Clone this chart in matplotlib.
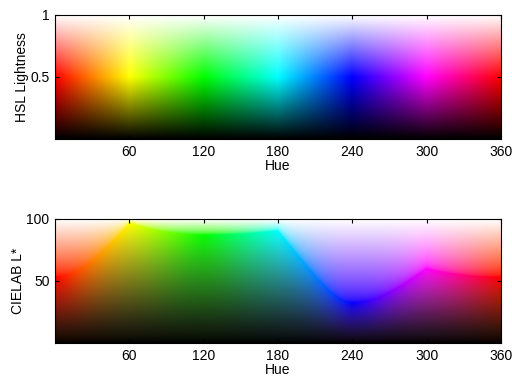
# 색상환 두 가지 밝기 기준 비교 -- HSL 명도 / CIELAB L*
import numpy as np
import matplotlib
matplotlib.use("Agg")
import matplotlib.pyplot as plt
import colorsys

plt.rcParams['font.family'] = ['Liberation Sans', 'DejaVu Sans']
plt.rcParams['font.size'] = 10

# 축 범위와 눈금
hue_range = [0, 360]
hue_ticks = [60, 120, 180, 240, 300, 360]
hsl_ticks = [0.5, 1]
hsl_tick_labels = ['0.5', '1']
lab_ticks = [50, 100]
lab_tick_labels = ['50', '100']

hues = np.linspace(0, 360, 361)
hsl_levels = np.linspace(0, 1, 201)
lab_levels = np.linspace(0, 100, 201)


# sRGB <-> CIELAB 변환 (D65)
M = np.array([[0.4124, 0.3576, 0.1805],
              [0.2126, 0.7152, 0.0722],
              [0.0193, 0.1192, 0.9505]])
WHITE = M.sum(axis=1)


def srgb_to_lab(rgb):
    lin = np.where(rgb <= 0.04045, rgb / 12.92, ((rgb + 0.055) / 1.055) ** 2.4)
    xyz = lin @ M.T / WHITE
    f = np.where(xyz > (6 / 29) ** 3, np.cbrt(xyz), xyz / (3 * (6 / 29) ** 2) + 4 / 29)
    L = 116 * f[..., 1] - 16
    a = 500 * (f[..., 0] - f[..., 1])
    b = 200 * (f[..., 1] - f[..., 2])
    return np.stack([L, a, b], axis=-1)


def lab_to_srgb(lab):
    fy = (lab[..., 0] + 16) / 116
    fx = fy + lab[..., 1] / 500
    fz = fy - lab[..., 2] / 200
    f = np.stack([fx, fy, fz], axis=-1)
    d = 6 / 29
    xyz = np.where(f > d, f ** 3, 3 * d ** 2 * (f - 4 / 29)) * WHITE
    lin = xyz @ np.linalg.inv(M).T
    lin = np.clip(lin, 0, 1)
    rgb = np.where(lin <= 0.0031308, 12.92 * lin, 1.055 * lin ** (1 / 2.4) - 0.055)
    return np.clip(rgb, 0, 1)


# HSL 이미지
hsl_img = np.array([[colorsys.hls_to_rgb(h / 360 % 1, l, 1.0) for h in hues]
                    for l in hsl_levels])

# CIELAB 이미지: 순색의 L* 기준으로 검정/흰색 쪽으로 보간
pure = np.array([colorsys.hls_to_rgb(h / 360 % 1, 0.5, 1.0) for h in hues])
pure_lab = srgb_to_lab(pure)
Lp = pure_lab[:, 0]
white_lab = np.array([100.0, 0.0, 0.0])
lab_img = np.zeros((len(lab_levels), len(hues), 3))
for i, L in enumerate(lab_levels):
    below = (pure_lab * (L / Lp)[:, None])
    t = ((100 - L) / (100 - Lp))[:, None]
    above = white_lab + (pure_lab - white_lab) * t
    lab_img[i] = np.where((L <= Lp)[:, None], below, above)
lab_rgb = lab_to_srgb(lab_img)

fig = plt.figure(figsize=(5.12, 3.78), dpi=100)
ax1 = fig.add_axes([55 / 512, 1 - 139 / 378, 446 / 512, 124 / 378])
ax2 = fig.add_axes([55 / 512, 1 - 343 / 378, 446 / 512, 124 / 378])

ax1.imshow(hsl_img, origin='lower', aspect='auto',
           extent=[hue_range[0], hue_range[1], 0, 1], interpolation='bilinear')
ax1.set_ylim(0, 1)
ax1.set_yticks(hsl_ticks)
ax1.set_yticklabels(hsl_tick_labels)
ax1.set_ylabel('HSL Lightness', labelpad=1)

ax2.imshow(lab_rgb, origin='lower', aspect='auto',
           extent=[hue_range[0], hue_range[1], 0, 100], interpolation='bilinear')
ax2.set_ylim(0, 100)
ax2.set_yticks(lab_ticks)
ax2.set_yticklabels(lab_tick_labels)
ax2.set_ylabel('CIELAB L*', labelpad=1)

for ax in (ax1, ax2):
    ax.set_xlim(hue_range)
    ax.set_xticks(hue_ticks)
    ax.set_xticklabels([str(h) for h in hue_ticks])
    ax.set_xlabel('Hue', labelpad=0)
    ax.tick_params(direction='in', top=True, right=True, length=3, width=0.8, pad=4)
    for s in ax.spines.values():
        s.set_linewidth(0.8)

plt.savefig('out.png', dpi=100)
